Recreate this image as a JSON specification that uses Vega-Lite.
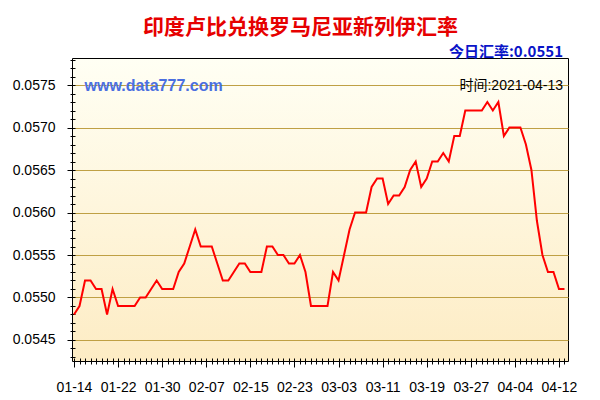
{
  "$schema": "https://vega.github.io/schema/vega-lite/v6.json",
  "width": 496,
  "height": 303,
  "autosize": {"type": "none"},
  "padding": {"left": 72, "top": 58, "right": 32, "bottom": 39},
  "background": "#ffffff",
  "title": {
    "text": "今日汇率:0.0551",
    "subtitle": "时间:2021-04-13",
    "orient": "bottom",
    "anchor": "end",
    "frame": "group",
    "dx": -5,
    "offset": -349,
    "font": "Noto Sans CJK SC",
    "fontSize": 15,
    "fontWeight": "bold",
    "color": "#0a14c8",
    "subtitleFont": "Liberation Sans, Noto Sans CJK SC",
    "subtitleFontSize": 14,
    "subtitleFontWeight": "normal",
    "subtitleColor": "#000000",
    "subtitlePadding": 19
  },
  "config": {
    "view": {
      "stroke": "#000000",
      "strokeWidth": 1,
      "fill": {
        "gradient": "linear",
        "x1": 0, "y1": 0, "x2": 0, "y2": 1,
        "stops": [
          {"offset": 0, "color": "#fffff4"},
          {"offset": 1, "color": "#fdecc4"}
        ]
      }
    },
    "axis": {
      "labelFont": "Liberation Sans",
      "labelFontSize": 14,
      "labelColor": "#000000",
      "tickColor": "#000000",
      "tickWidth": 1,
      "domain": false
    }
  },
  "data": {
    "values": [
      {"date": "2021-01-14", "rate": 0.0548},
      {"date": "2021-01-15", "rate": 0.0549},
      {"date": "2021-01-16", "rate": 0.0552},
      {"date": "2021-01-17", "rate": 0.0552},
      {"date": "2021-01-18", "rate": 0.0551},
      {"date": "2021-01-19", "rate": 0.0551},
      {"date": "2021-01-20", "rate": 0.0548},
      {"date": "2021-01-21", "rate": 0.0551},
      {"date": "2021-01-22", "rate": 0.0549},
      {"date": "2021-01-23", "rate": 0.0549},
      {"date": "2021-01-24", "rate": 0.0549},
      {"date": "2021-01-25", "rate": 0.0549},
      {"date": "2021-01-26", "rate": 0.0550},
      {"date": "2021-01-27", "rate": 0.0550},
      {"date": "2021-01-28", "rate": 0.0551},
      {"date": "2021-01-29", "rate": 0.0552},
      {"date": "2021-01-30", "rate": 0.0551},
      {"date": "2021-01-31", "rate": 0.0551},
      {"date": "2021-02-01", "rate": 0.0551},
      {"date": "2021-02-02", "rate": 0.0553},
      {"date": "2021-02-03", "rate": 0.0554},
      {"date": "2021-02-04", "rate": 0.0556},
      {"date": "2021-02-05", "rate": 0.0558},
      {"date": "2021-02-06", "rate": 0.0556},
      {"date": "2021-02-07", "rate": 0.0556},
      {"date": "2021-02-08", "rate": 0.0556},
      {"date": "2021-02-09", "rate": 0.0554},
      {"date": "2021-02-10", "rate": 0.0552},
      {"date": "2021-02-11", "rate": 0.0552},
      {"date": "2021-02-12", "rate": 0.0553},
      {"date": "2021-02-13", "rate": 0.0554},
      {"date": "2021-02-14", "rate": 0.0554},
      {"date": "2021-02-15", "rate": 0.0553},
      {"date": "2021-02-16", "rate": 0.0553},
      {"date": "2021-02-17", "rate": 0.0553},
      {"date": "2021-02-18", "rate": 0.0556},
      {"date": "2021-02-19", "rate": 0.0556},
      {"date": "2021-02-20", "rate": 0.0555},
      {"date": "2021-02-21", "rate": 0.0555},
      {"date": "2021-02-22", "rate": 0.0554},
      {"date": "2021-02-23", "rate": 0.0554},
      {"date": "2021-02-24", "rate": 0.0555},
      {"date": "2021-02-25", "rate": 0.0553},
      {"date": "2021-02-26", "rate": 0.0549},
      {"date": "2021-02-27", "rate": 0.0549},
      {"date": "2021-02-28", "rate": 0.0549},
      {"date": "2021-03-01", "rate": 0.0549},
      {"date": "2021-03-02", "rate": 0.0553},
      {"date": "2021-03-03", "rate": 0.0552},
      {"date": "2021-03-04", "rate": 0.0555},
      {"date": "2021-03-05", "rate": 0.0558},
      {"date": "2021-03-06", "rate": 0.0560},
      {"date": "2021-03-07", "rate": 0.0560},
      {"date": "2021-03-08", "rate": 0.0560},
      {"date": "2021-03-09", "rate": 0.0563},
      {"date": "2021-03-10", "rate": 0.0564},
      {"date": "2021-03-11", "rate": 0.0564},
      {"date": "2021-03-12", "rate": 0.0561},
      {"date": "2021-03-13", "rate": 0.0562},
      {"date": "2021-03-14", "rate": 0.0562},
      {"date": "2021-03-15", "rate": 0.0563},
      {"date": "2021-03-16", "rate": 0.0565},
      {"date": "2021-03-17", "rate": 0.0566},
      {"date": "2021-03-18", "rate": 0.0563},
      {"date": "2021-03-19", "rate": 0.0564},
      {"date": "2021-03-20", "rate": 0.0566},
      {"date": "2021-03-21", "rate": 0.0566},
      {"date": "2021-03-22", "rate": 0.0567},
      {"date": "2021-03-23", "rate": 0.0566},
      {"date": "2021-03-24", "rate": 0.0569},
      {"date": "2021-03-25", "rate": 0.0569},
      {"date": "2021-03-26", "rate": 0.0572},
      {"date": "2021-03-27", "rate": 0.0572},
      {"date": "2021-03-28", "rate": 0.0572},
      {"date": "2021-03-29", "rate": 0.0572},
      {"date": "2021-03-30", "rate": 0.0573},
      {"date": "2021-03-31", "rate": 0.0572},
      {"date": "2021-04-01", "rate": 0.0573},
      {"date": "2021-04-02", "rate": 0.0569},
      {"date": "2021-04-03", "rate": 0.0570},
      {"date": "2021-04-04", "rate": 0.0570},
      {"date": "2021-04-05", "rate": 0.0570},
      {"date": "2021-04-06", "rate": 0.0568},
      {"date": "2021-04-07", "rate": 0.0565},
      {"date": "2021-04-08", "rate": 0.0559},
      {"date": "2021-04-09", "rate": 0.0555},
      {"date": "2021-04-10", "rate": 0.0553},
      {"date": "2021-04-11", "rate": 0.0553},
      {"date": "2021-04-12", "rate": 0.0551},
      {"date": "2021-04-13", "rate": 0.0551}
    ]
  },
  "mark": {"type": "line", "color": "#ff0000", "strokeWidth": 2, "clip": true},
  "encoding": {
    "x": {
      "field": "date",
      "type": "temporal",
      "scale": {
        "type": "utc",
        "domain": [
          {"year": 2021, "month": 1, "date": 13, "hours": 15, "minutes": 17, "utc": true},
          {"year": 2021, "month": 4, "date": 13, "hours": 15, "minutes": 17, "utc": true}
        ]
      },
      "axis": {
        "orient": "bottom",
        "tickCount": {"interval": "day", "step": 1},
        "labelExpr": "round((datum.value - 1610582400000) / 86400000) % 8 == 0 ? utcFormat(datum.value, '%m-%d') : ''",
        "labelOverlap": false,
        "labelFlush": false,
        "offset": -3,
        "tickSize": {"condition": {"test": "round((datum.value - 1610582400000) / 86400000) % 8 == 0", "value": 9}, "value": 6},
        "labelPadding": 13,
        "grid": false,
        "title": "印度卢比兑换罗马尼亚新列伊汇率",
        "titleFont": "Noto Sans CJK SC",
        "titleFontSize": 21,
        "titleFontWeight": "bold",
        "titleColor": "#e60000",
        "titleAlign": "center",
        "titleBaseline": "middle",
        "titleX": 228,
        "titleY": -331
      }
    },
    "y": {
      "field": "rate",
      "type": "quantitative",
      "scale": {"domain": [0.05425294, 0.05781765], "nice": false, "zero": false},
      "axis": {
        "orient": "left",
        "values": [0.0543, 0.0544, 0.0545, 0.0546, 0.0547, 0.0548, 0.0549, 0.0550, 0.0551, 0.0552, 0.0553, 0.0554, 0.0555, 0.0556, 0.0557, 0.0558, 0.0559, 0.0560, 0.0561, 0.0562, 0.0563, 0.0564, 0.0565, 0.0566, 0.0567, 0.0568, 0.0569, 0.0570, 0.0571, 0.0572, 0.0573, 0.0574, 0.0575, 0.0576, 0.0577, 0.0578],
        "labelExpr": "round(datum.value * 10000) % 5 == 0 ? format(datum.value, '.4f') : ''",
        "labelOverlap": false,
        "labelFlush": false,
        "offset": -3,
        "tickSize": {"condition": {"test": "round(datum.value * 10000) % 5 == 0", "value": 8}, "value": 5},
        "labelPadding": 12,
        "grid": true,
        "gridColor": "#bfa044",
        "gridWidth": 1,
        "gridOpacity": {"condition": {"test": "round(datum.value * 10000) % 5 == 0", "value": 1}, "value": 0},
        "title": "www.data777.com",
        "titleFont": "Liberation Sans",
        "titleFontSize": 16,
        "titleFontWeight": "bold",
        "titleColor": "#4b6fe0",
        "titleAngle": 0,
        "titleAlign": "left",
        "titleBaseline": "middle",
        "titleX": 9,
        "titleY": 27
      }
    }
  }
}
